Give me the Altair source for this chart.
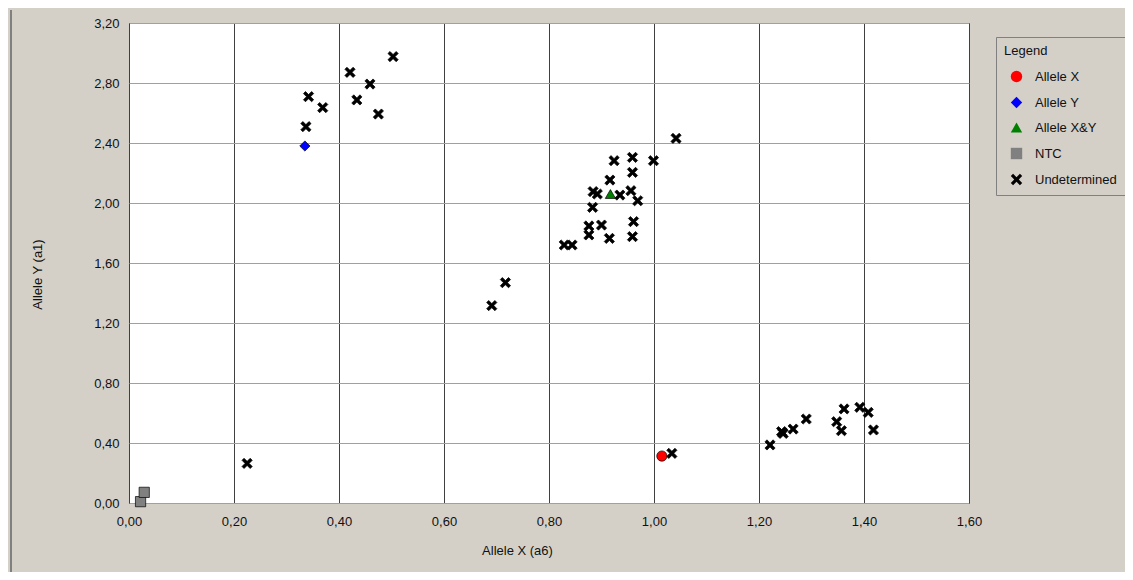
import altair as alt
import pandas as pd

# ---- data ----
und_x = [0.503, 0.421, 0.459, 0.434, 0.475, 0.342, 0.369, 0.337,
         1.042, 0.924, 0.959, 0.999, 0.959, 0.916, 0.884, 0.892, 0.935, 0.956,
         0.969, 0.883, 0.876, 0.900, 0.876, 0.915, 0.961, 0.959, 0.829, 0.844,
         0.717, 0.691,
         1.221, 1.243, 1.246, 1.265, 1.290, 1.348, 1.362, 1.357, 1.392, 1.408, 1.418,
         1.034, 0.225]
und_y = [2.976, 2.871, 2.793, 2.687, 2.593, 2.709, 2.636, 2.509,
         2.431, 2.282, 2.304, 2.282, 2.204, 2.153, 2.076, 2.060, 2.053, 2.082,
         2.015, 1.971, 1.847, 1.853, 1.787, 1.764, 1.876, 1.776, 1.720, 1.720,
         1.469, 1.316,
         0.387, 0.476, 0.464, 0.493, 0.560, 0.542, 0.627, 0.482, 0.638, 0.604, 0.487,
         0.331, 0.264]
alleleX_x = [1.015]
alleleX_y = [0.313]
alleleY_x = [0.335]
alleleY_y = [2.380]
alleleXY_x = [0.917]
alleleXY_y = [2.060]
ntc_x = [0.022, 0.029]
ntc_y = [0.009, 0.071]

categories = ["Allele X", "Allele Y", "Allele X&Y", "NTC", "Undetermined"]
colors = ["#FF0000", "#0000FF", "#008000", "#808080", "#000000"]
x_ticks = [0.0, 0.2, 0.4, 0.6, 0.8, 1.0, 1.2, 1.4, 1.6]
y_ticks = [0.0, 0.4, 0.8, 1.2, 1.6, 2.0, 2.4, 2.8, 3.2]

rows = []
for xs, ys, c in [(und_x, und_y, "Undetermined"), (ntc_x, ntc_y, "NTC"),
                  (alleleX_x, alleleX_y, "Allele X"), (alleleY_x, alleleY_y, "Allele Y"),
                  (alleleXY_x, alleleXY_y, "Allele X&Y")]:
    for a, b in zip(xs, ys):
        rows.append({"x": a, "y": b, "cat": c})
df = pd.DataFrame(rows)

XPATH = ("M-1,-0.6L-0.6,-1L0,-0.4L0.6,-1L1,-0.6L0.4,0L1,0.6L0.6,1L0,0.4"
         "L-0.6,1L-1,0.6L-0.4,0Z")
shapes = ["circle", "diamond", "triangle-up", "square", XPATH]

FONT = "Liberation Sans Narrow, Liberation Sans, Arial"
lbl = "replace(format(datum.value, '.2f'), '.', ',')"

points = alt.Chart(df).mark_point(filled=True, opacity=1, size=105,
                                  stroke="#000000", strokeWidth=0.7).encode(
    x=alt.X("x:Q", scale=alt.Scale(domain=[0, 1.6], nice=False, zero=False),
            axis=alt.Axis(values=x_ticks, labelExpr=lbl, title="Allele X (a6)",
                          grid=True, gridColor="#404040", gridOpacity=1,
                          domain=False, ticks=False, labelPadding=12,
                          labelFlush=False, labelOverlap=False,
                          titleX=388, titleY=47, titleBaseline="middle",
                          titleAlign="center")),
    y=alt.Y("y:Q", scale=alt.Scale(domain=[0, 3.2], nice=False, zero=False),
            axis=alt.Axis(values=y_ticks, labelExpr=lbl, title="Allele Y (a1)",
                          grid=True, gridColor="#A0A0A0", gridOpacity=1,
                          domain=False, ticks=False, labelPadding=10,
                          labelFlush=False, labelOverlap=False,
                          titleX=-92, titleY=251, titleBaseline="middle",
                          titleAlign="center", titleAngle=270)),
    fill=alt.Fill("cat:N", scale=alt.Scale(domain=categories, range=colors),
                  title="Legend"),
    shape=alt.Shape("cat:N", scale=alt.Scale(domain=categories, range=shapes),
                    title="Legend"),
)

border = alt.Chart(df).mark_rule(color="#808080", strokeWidth=2).encode(
    x=alt.value(-118), y=alt.value(-13), y2=alt.value(549))

chart = alt.layer(border, points).properties(
    width=840, height=480,
    autosize=alt.AutoSizeParams(type="none"),
    padding={"left": 121, "top": 15, "right": 156, "bottom": 69},
    background="#D4D0C8",
).configure_view(
    fill="#FFFFFF", stroke="#000000", strokeWidth=1
).configure_axis(
    labelFont=FONT, labelFontSize=13, labelColor="#111111",
    titleFont=FONT, titleFontSize=13, titleColor="#111111", titleFontWeight="normal",
    gridWidth=1,
).configure_legend(
    orient="none", legendX=867, legendY=14,
    strokeColor="#808080", fillColor="#D4D0C8", padding=8,
    titleFont=FONT, titleFontSize=13, titleColor="#111111", titleFontWeight="normal",
    titlePadding=12,
    labelFont=FONT, labelFontSize=13, labelColor="#111111",
    symbolSize=130, symbolStrokeColor="#000000", symbolStrokeWidth=0.7,
    symbolOffset=6, rowPadding=11, labelOffset=12, cornerRadius=0,
)

chart.save("out.html", embed_options={"renderer": "svg", "actions": False})
